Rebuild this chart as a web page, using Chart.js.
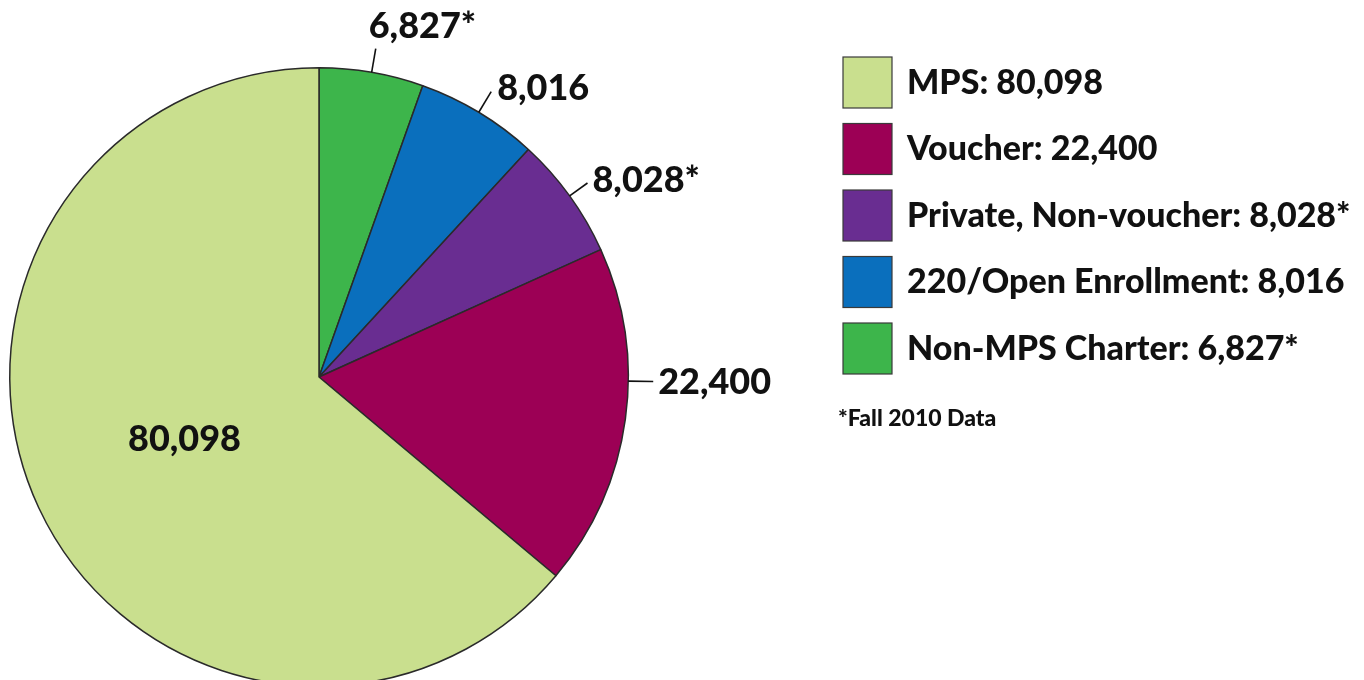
<!DOCTYPE html>
<html>
<head>
<meta charset="utf-8">
<script src="https://cdn.jsdelivr.net/npm/chart.js@4.4.7/dist/chart.umd.min.js"></script>
<style>
  html, body { margin: 0; padding: 0; background: #fff; overflow: hidden; }
  #wrap { width: 1364px; height: 700px; }
</style>
</head>
<body>
<div id="wrap"><canvas id="pie" width="1364" height="700"></canvas></div>
<script>
// slices go clockwise from 12 o'clock
const categories = ["Non-MPS Charter", "220/Open Enrollment", "Private, Non-voucher", "Voucher", "MPS"];
const values = [6827, 8016, 8028, 22400, 80098];
const sliceLabels = ["6,827*", "8,016", "8,028*", "22,400", "80,098"];
const legendLabels = ["Non-MPS Charter: 6,827*", "220/Open Enrollment: 8,016", "Private, Non-voucher: 8,028*", "Voucher: 22,400", "MPS: 80,098"];
const legendOrder = [4, 3, 2, 1, 0];
const footnote = "*Fall 2010 Data";

const colors = ["#3db54b", "#0a6fbd", "#692d91", "#9c0055", "#c9df8e"];
const FONT = "Lato, 'Open Sans', sans-serif";

// callout look: where on the arc the leader starts (fraction of slice), and text offset from leader end
const callouts = [
  { frac: 0.5, len: 24, dx: -7, dy: -11, inside: false },
  { frac: 0.5, len: 24, dx: 6, dy: 8, inside: false },
  { frac: 0.5, len: 22, dx: 5, dy: 9, inside: false },
  { frac: 0.39, len: 25, dx: 5, dy: 13, inside: false },
  { frac: 0.5, r: 0.48, inside: true },
];

const calloutPlugin = {
  id: "callouts",
  afterDatasetsDraw(chart) {
    const ctx = chart.ctx;
    const arcs = chart.getDatasetMeta(0).data;
    ctx.save();
    ctx.fillStyle = "#111";
    ctx.strokeStyle = "#111";
    ctx.lineWidth = 1.6;
    ctx.font = "900 36px " + FONT;
    arcs.forEach((arc, i) => {
      const c = callouts[i];
      const a = arc.startAngle + (arc.endAngle - arc.startAngle) * c.frac;
      const cos = Math.cos(a), sin = Math.sin(a);
      if (c.inside) {
        const r = arc.outerRadius * c.r;
        ctx.textAlign = "center";
        ctx.textBaseline = "middle";
        ctx.fillText(sliceLabels[i], arc.x + cos * r, arc.y + sin * r);
        return;
      }
      const r0 = arc.outerRadius;
      const x0 = arc.x + cos * r0, y0 = arc.y + sin * r0;
      const x1 = arc.x + cos * (r0 + c.len), y1 = arc.y + sin * (r0 + c.len);
      ctx.beginPath();
      ctx.moveTo(x0, y0);
      ctx.lineTo(x1, y1);
      ctx.stroke();
      ctx.textAlign = "left";
      ctx.textBaseline = "alphabetic";
      ctx.fillText(sliceLabels[i], x1 + c.dx, y1 + c.dy);
    });
    ctx.restore();
  },
  afterDraw(chart) {
    const ctx = chart.ctx;
    ctx.save();
    legendOrder.forEach((idx, row) => {
      const top = 57 + row * 66.5;
      ctx.fillStyle = colors[idx];
      ctx.fillRect(843, top, 49, 51);
      ctx.strokeStyle = "#3a3a3a";
      ctx.lineWidth = 1.2;
      ctx.strokeRect(843, top, 49, 51);
      ctx.fillStyle = "#111";
      ctx.font = "900 34px " + FONT;
      ctx.textAlign = "left";
      ctx.textBaseline = "middle";
      ctx.fillText(legendLabels[idx], 907, top + 26);
    });
    ctx.font = "900 23px " + FONT;
    ctx.fillText(footnote, 838, 419);
    ctx.restore();
  },
};

new Chart(document.getElementById("pie"), {
  type: "pie",
  data: {
    labels: categories,
    datasets: [{
      data: values,
      backgroundColor: colors,
      borderColor: "#2a2a2a",
      borderWidth: 1.5,
    }],
  },
  options: {
    responsive: false,
    animation: false,
    layout: { padding: { left: 9, top: 67, right: 735, bottom: 13 } },
    plugins: { legend: { display: false }, tooltip: { enabled: false } },
  },
  plugins: [calloutPlugin],
});
</script>
</body>
</html>
